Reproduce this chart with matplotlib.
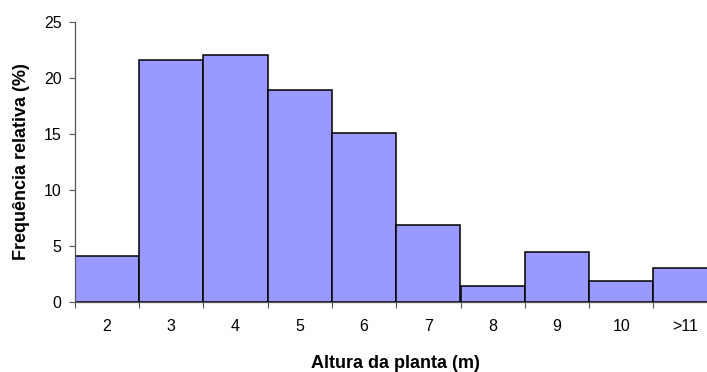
import matplotlib
matplotlib.use('Agg')
import matplotlib.pyplot as plt
import numpy as np

# height classes and relative frequency (%)
classes = ['2', '3', '4', '5', '6', '7', '8', '9', '10', '>11']
freq = [4.1, 21.6, 22.0, 18.9, 15.1, 6.9, 1.4, 4.5, 1.9, 3.05]

plt.rcParams['font.family'] = ['Liberation Sans', 'DejaVu Sans']

fig = plt.figure(figsize=(7.07, 3.72), dpi=100)
# axis runs past the right edge of the picture, as in the original
ax = fig.add_axes([74.7/707, 70/372, 643/707, 280.5/372])

pos = np.arange(len(classes))
ax.bar(pos, freq, width=1.0, color='#9999FF', edgecolor='black',
       linewidth=1.1, zorder=2)

ax.set_xlim(-0.5, len(classes) - 0.5)
ax.set_ylim(0, 25)
ax.set_yticks(np.arange(0, 26, 5))

# tick marks on bar edges, labels centred under bars
ax.set_xticks(np.arange(-0.5, len(classes), 1.0))
ax.set_xticklabels([])
ax.set_xticks(pos, minor=True)
ax.set_xticklabels(classes, minor=True)
ax.tick_params(axis='x', which='minor', length=0, pad=12.5, labelsize=11.5)
ax.tick_params(axis='x', which='major', length=4.5, width=0.8,
               color='#555555', direction='out')
ax.tick_params(axis='y', length=4.5, width=0.8, color='#555555',
               direction='out', labelsize=11.5, pad=5)

for s in ['top', 'right']:
    ax.spines[s].set_visible(False)
for s in ['left', 'bottom']:
    ax.spines[s].set_color('#555555')
    ax.spines[s].set_linewidth(0.9)

fig.text(22/707, 1 - 162/372, 'Frequência relativa (%)', rotation=90,
         ha='center', va='center', fontsize=13, fontweight='bold')
fig.text(395/707, 1 - 368/372, 'Altura da planta (m)', ha='center',
         va='baseline', fontsize=13, fontweight='bold')

plt.savefig('out.png', dpi=100)
